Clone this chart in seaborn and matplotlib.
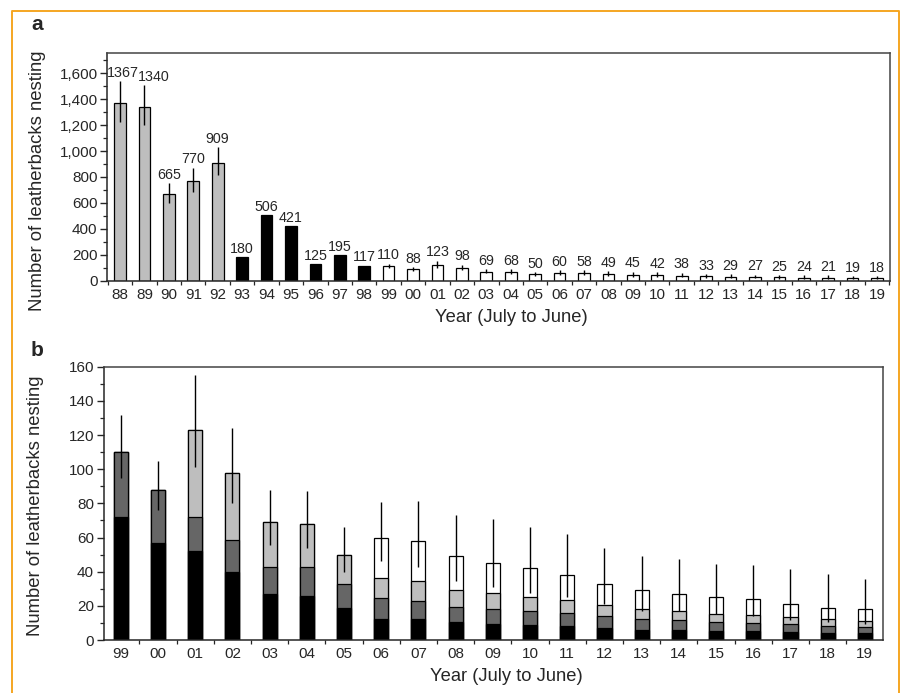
import numpy as np
import pandas as pd
import matplotlib
matplotlib.use("Agg")
import matplotlib.pyplot as plt
from matplotlib.lines import Line2D
from matplotlib.ticker import MultipleLocator, FixedLocator
import seaborn as sns

# ---------------- data ----------------
years_a = ["88", "89", "90", "91", "92", "93", "94", "95", "96", "97", "98",
           "99", "00", "01", "02", "03", "04", "05", "06", "07", "08", "09",
           "10", "11", "12", "13", "14", "15", "16", "17", "18", "19"]
counts_a = [1367, 1340, 665, 770, 909, 180, 506, 421, 125, 195, 117,
            110, 88, 123, 98, 69, 68, 50, 60, 58, 49, 45,
            42, 38, 33, 29, 27, 25, 24, 21, 19, 18]
group_a = ["early"] * 5 + ["mid"] * 6 + ["late"] * 21
# confidence limits (None where no error bar drawn)
lower_a = [1222, 1201, 597, 684, 815, None, None, None, None, None, None,
           95, 76, 101, 80, 55.6, 54, 39.6, 46, 42.5, 34.5, 30.8,
           27.7, 25, 21, 17, 17, 15, 14, 11.7, 10.5, 9.4]
upper_a = [1541, 1510, 756, 872, 1031, None, None, None, None, None, None,
           132, 105, 155, 124, 87.8, 87, 66, 81, 81.6, 73, 70.6,
           66, 62, 54, 49, 47.4, 44.7, 44, 41.6, 38.4, 36]

years_b = ["99", "00", "01", "02", "03", "04", "05", "06", "07", "08",
           "09", "10", "11", "12", "13", "14", "15", "16", "17", "18", "19"]
seg_black = [72, 57, 52, 40, 27, 26, 18.5, 12.3, 12.3, 10.5,
             9.6, 8.8, 8.2, 6.8, 6, 5.7, 5.3, 5.1, 4.7, 4.3, 3.9]
seg_dark = [38, 31, 20, 18.7, 15.5, 16.5, 14.1, 12.5, 10.3, 8.6,
            8.7, 8.2, 7.4, 7.1, 6.5, 6, 5, 4.7, 4.5, 3.9, 3.7]
seg_light = [0, 0, 51, 39.3, 26.5, 25.5, 17.4, 11.7, 12.1, 10.2,
             9.4, 8.4, 7.6, 6.4, 5.8, 5.1, 4.9, 4.6, 4.1, 3.9, 3.5]
seg_white = [0, 0, 0, 0, 0, 0, 0, 23.5, 23.3, 19.7,
             17.3, 16.6, 14.8, 12.7, 10.7, 10.2, 9.8, 9.6, 7.7, 6.9, 6.9]
lower_b = [95, 76, 101, 80, 55.6, 54, 39.6, 46, 42.5, 34.5,
           30.8, 27.7, 25, 21, 17, 17, 15, 14, 11.7, 10.5, 9.4]
upper_b = [132, 105, 155, 124, 87.8, 87, 66, 81, 81.6, 73,
           70.6, 66, 62, 54, 49, 47.4, 44.7, 44, 41.6, 38.4, 36]

# ---------------- style ----------------
sns.set_style("ticks")
plt.rcParams["font.family"] = ["Liberation Sans", "DejaVu Sans"]
plt.rcParams["axes.linewidth"] = 1.1

LIGHT = "#bebebe"
DARK = "#666666"
BLACK = "#000000"
palette_a = {"early": LIGHT, "mid": BLACK, "late": "white"}

fig = plt.figure(figsize=(9.04, 6.93), dpi=100)
W, H = 904, 693

def px_axes(l, t, r, b):
    return fig.add_axes([l / W, 1 - b / H, (r - l) / W, (b - t) / H])

axa = px_axes(107.3, 53.3, 890, 280.7)
axb = px_axes(103.7, 366.7, 882.7, 640)

# ---------------- panel a ----------------
df_a = pd.DataFrame({"year": years_a, "count": counts_a, "group": group_a})
sns.barplot(data=df_a, x="year", y="count", hue="group", palette=palette_a,
            order=years_a, dodge=False, width=0.48, saturation=1,
            edgecolor="black", linewidth=0.9, errorbar=None, legend=False,
            ax=axa)
xa = np.arange(len(years_a))
label_nudge = {0: 2, 1: 7}  # horizontal nudge (points) for crowded labels
for i, (lo, hi) in enumerate(zip(lower_a, upper_a)):
    if lo is not None:
        axa.vlines(xa[i], lo, hi, color="black", lw=1.0, zorder=5)
    top = counts_a[i] if hi is None else hi
    axa.annotate(str(counts_a[i]), (xa[i], top),
                 xytext=(label_nudge.get(i, 0), 3),
                 textcoords="offset points", ha="center", va="baseline",
                 fontsize=10.3)
axa.set_xlim(-0.52, len(years_a) - 0.47)
axa.set_ylim(0, 1754)
axa.yaxis.set_major_locator(FixedLocator(np.arange(0, 1601, 200)))
axa.yaxis.set_minor_locator(MultipleLocator(100))
axa.set_yticklabels([f"{v:,}" for v in np.arange(0, 1601, 200)])

# ---------------- panel b ----------------
c1 = np.array(seg_black)
c2 = c1 + np.array(seg_dark)
c3 = c2 + np.array(seg_light)
c4 = c3 + np.array(seg_white)
for vals, col in [(c4, "white"), (c3, LIGHT), (c2, DARK), (c1, BLACK)]:
    sns.barplot(x=years_b, y=vals, order=years_b, color=col, saturation=1,
                width=0.38, edgecolor="black", linewidth=0.9, errorbar=None,
                ax=axb)
xb = np.arange(len(years_b))
axb.vlines(xb, lower_b, upper_b, color="black", lw=1.0, zorder=5)
axb.set_xlim(-0.46, len(years_b) - 0.52)
axb.set_ylim(0, 160)
axb.yaxis.set_major_locator(MultipleLocator(20))
axb.yaxis.set_minor_locator(MultipleLocator(10))

# ---------------- common axis styling ----------------
for ax, n in [(axa, len(years_a)), (axb, len(years_b))]:
    ax.set_xticks(np.arange(n))
    ax.xaxis.set_minor_locator(FixedLocator(np.arange(-0.5, n, 1.0)))
    ax.tick_params(axis="x", which="major", length=0, labelsize=11, pad=5)
    ax.tick_params(axis="x", which="minor", length=3, width=0.9, direction="out")
    ax.tick_params(axis="y", which="major", length=5, width=1.0, labelsize=11, pad=2)
    ax.tick_params(axis="y", which="minor", length=3, width=0.9)
    for s in ["top", "right", "left", "bottom"]:
        ax.spines[s].set_visible(True)
    ax.spines["top"].set_color("#444444")
    ax.spines["right"].set_color("#444444")
    ax.set_xlabel("Year (July to June)", fontsize=13.2)
    ax.set_ylabel("Number of leatherbacks nesting", fontsize=13.3)
    ax.xaxis.label.set_verticalalignment("center")
    ax.yaxis.label.set_verticalalignment("center")

axa.xaxis.set_label_coords(0.516, -0.16)
axa.yaxis.set_label_coords(-0.089, 0.44)
axb.xaxis.set_label_coords(0.517, -0.132)
axb.yaxis.set_label_coords(-0.087, 0.49)

fig.text(37 / W, 1 - 25 / H, "a", fontsize=15, fontweight="bold", ha="center", va="center")
fig.text(37 / W, 1 - 350 / H, "b", fontsize=15, fontweight="bold", ha="center", va="center")

# orange frame (open at the bottom)
fig.add_artist(Line2D([12 / W, 12 / W, 899 / W, 899 / W],
                      [0, 1 - 10.7 / H, 1 - 10.7 / H, 0],
                      transform=fig.transFigure, color="#F5A623", lw=1.4))

fig.savefig("out.png", dpi=100)
